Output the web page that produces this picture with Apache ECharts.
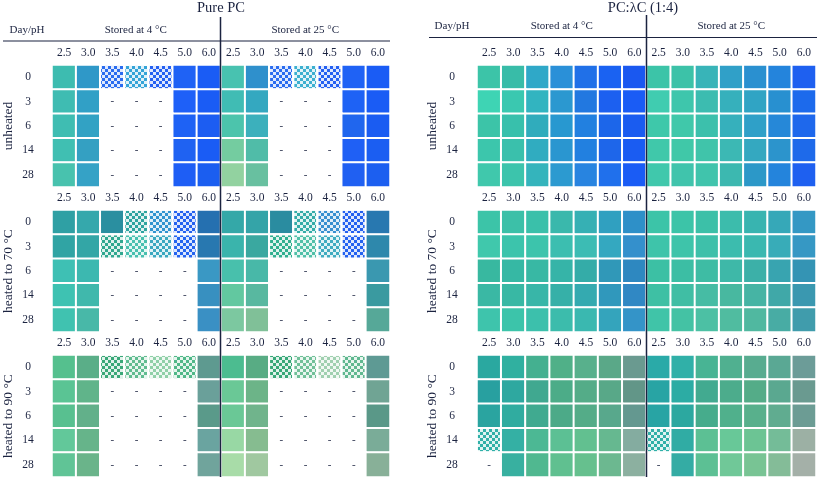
<!DOCTYPE html>
<html><head><meta charset="utf-8">
<script src="https://cdn.jsdelivr.net/npm/echarts@6/dist/echarts.min.js"></script>
<style>html,body{margin:0;padding:0;background:#fff}#c{width:817px;height:477px}</style>
</head><body><div id="c"></div>
<script>
// ---------- data ----------
const phLabels = ['2.5','3.0','3.5','4.0','4.5','5.0','6.0','2.5','3.0','3.5','4.0','4.5','5.0','6.0'];
const days = ['0','3','6','14','28'];
const panelTitles = ['Pure PC', 'PC:\u03bbC (1:4)'];
const treatments = ['unheated', 'heated to 70 \u00b0C', 'heated to 90 \u00b0C'];
const storageHeaders = ['Stored at 4 \u00b0C', 'Stored at 25 \u00b0C'];
const cornerLabel = 'Day/pH';
// cell colours ('x' prefix = checkered/phase-separated sample, '-' = no sample)
const pureUnheated = [
  ['#3dbcb0','#2f98c8','x#2a6cf0','x#34a4d8','x#2460f2','#1f62f5','#1a5cf5','#48c2b0','#2f90cc','x#2a6cf0','x#3cb0d0','x#2460f2','#1f62f5','#1a5cf5'],
  ['#3fbcb2','#31a0c6','-','-','-','#1e60f8','#1a5cf5','#40bcb4','#34a8c0','-','-','-','#1e62f5','#1a5cf5'],
  ['#3fbdb2','#32a2c4','-','-','-','#1e62f5','#1c5df2','#4cc4ac','#3cb0bc','-','-','-','#2066ee','#1a5cf2'],
  ['#40bfb2','#34a0c2','-','-','-','#1f62f2','#1a5cf5','#74cca0','#50bca8','-','-','-','#1f60f5','#1b5ef2'],
  ['#48c2ae','#35a2c6','-','-','-','#1e5ef5','#1b5ef0','#92d2a0','#68c0a0','-','-','-','#2060f2','#1c5ff0']
];
const pure70 = [
  ['#2fa0a4','#35a8ac','#2a8fa0','x#2ea4a0','x#3094d0','x#2462f0','#2570b0','#34a8a8','#34a4a8','#2a8ca0','x#34aca8','x#3890d0','x#2460f0','#2878b0'],
  ['#30a4a4','#33a6a6','x#30a890','x#48c0b0','x#3aa8c0','x#2464f0','#2878b0','#3ab4ac','#3aa8a0','x#30b090','x#50c0a8','x#40acc0','x#2462f0','#2e88ac'],
  ['#3ec0b4','#3cb8b0','-','-','-','-','#3a98c4','#48c0ac','#48b8a8','-','-','-','-','#3a98b0'],
  ['#3ec2b2','#40b8ac','-','-','-','-','#3890c0','#62c8a0','#58b8a0','-','-','-','-','#3a9aa0'],
  ['#40c2b0','#48b8a8','-','-','-','-','#3a90c4','#7cc8a0','#80c098','-','-','-','-','#56a898']
];
const pure90 = [
  ['#55c08e','#5aae88','x#3aa878','x#60bc90','x#90d0a8','x#50b888','#5e9a90','#4cbc90','#58ac84','x#38a878','x#70c098','x#a0d0b0','x#60b890','#5e9a94'],
  ['#5ac494','#60b48a','-','-','-','-','#6aa09a','#6ac896','#6cb488','-','-','-','-','#70a494'],
  ['#58c090','#62b08a','-','-','-','-','#5a9a8a','#6ac896','#70b48c','-','-','-','-','#5a9888'],
  ['#62c89a','#66b48a','-','-','-','-','#6aa4a0','#98d8a4','#86bc90','-','-','-','-','#7aac98'],
  ['#60c496','#6ab48a','-','-','-','-','#70a49c','#a8dca8','#a0c8a0','-','-','-','-','#88b098']
];
const mixUnheated = [
  ['#3cc4a8','#38bca8','#2fa8c8','#2a90d8','#2070e8','#1a62f2','#1a58f0','#3cc4a8','#3cc2a8','#38b4b8','#30a0c8','#2a90d0','#2484dc','#1e60f0'],
  ['#3ed4b4','#3ac8b0','#32b4c0','#2b98d0','#2278e0','#1c60f0','#1a5cf5','#40ccb0','#3ec6ac','#3cbcb0','#36b0bc','#30a4c4','#2890d0','#1c6aec'],
  ['#3cc4a8','#38c0ac','#30acbc','#2898d0','#2280e0','#1c66ea','#1a5cf0','#3ec8aa','#40c8aa','#3cc0ac','#36b0bc','#2fa0c8','#2688d8','#1e68ec'],
  ['#3cc6ac','#3ac0ac','#30acc0','#2a96d0','#2280e0','#1e66ea','#1a5cf2','#40c8aa','#40c8a8','#40c4aa','#3cb8b4','#34a8c0','#2c94cc','#1e6aea'],
  ['#40c8ac','#3cc4ac','#34b4bc','#2c9ad0','#2884e0','#2070ec','#1a5cf5','#40c8ac','#40c4ac','#40c4ac','#3cb8b0','#2c98c8','#2484dc','#1e60f0']
];
const mix70 = [
  ['#3cc4a8','#3cc0a8','#3ac0aa','#3ab8ac','#36b0b4','#30a0c0','#2e90c8','#3cc4a8','#3cc4a8','#3cc0a8','#3cbcac','#38b4b0','#36a8b8','#3498c4'],
  ['#40c8ac','#3cc4ac','#3cc4ac','#3cbeb0','#3cbcb4','#34a8c0','#3490cc','#3ec4aa','#3ec4aa','#3ec0aa','#3cbcae','#3ab8b0','#38acb8','#3698c4'],
  ['#38b8a0','#36b8a4','#38b8a4','#36b4a8','#34aca8','#3098b8','#2e88c0','#3cc0a4','#3cbea4','#3ebca4','#3eb8a8','#3cb0a8','#38a4b0','#3494b4'],
  ['#3ab8a4','#38b8a4','#38b6a8','#36b0a8','#34aab0','#3098bc','#3088c4','#3ec0a4','#40bea4','#46bca4','#48b8a0','#46b4a4','#40a8a8','#3a98b0'],
  ['#3ec4ac','#3cc4aa','#3cc0ac','#3cbcac','#3ab8b0','#34a4bc','#3494c8','#40c4a8','#44c2a4','#4cc0a4','#50bca0','#50b8a0','#48aca4','#409cac']
];
const mix90 = [
  ['#2aa8a0','#30b0a0','#44b090','#50b088','#58b08c','#5aa888','#6a9a90','#2aaaa8','#30b0a8','#48b494','#50b090','#58ac90','#5aa894','#6c9c98'],
  ['#28a0a0','#2ea8a0','#40a890','#4cac88','#54ac88','#58a888','#629688','#28a4a4','#2caca4','#42aa90','#4cac8c','#54ac88','#5aa890','#6a9a90'],
  ['#2aa4a0','#30aca0','#40aa90','#4caa88','#54ac88','#58a88c','#649890','#28a4a4','#2ca8a0','#46ac8c','#50b08c','#58b08c','#60ac90','#6c9c94'],
  ['x#30b0a8','#34b0a4','#4cb894','#5cc094','#62c090','#66b890','#84aca0','x#30b0a8','#30aca4','#5cc094','#68c898','#6cc494','#74bc98','#9cb0a4'],
  ['-','#38b0a0','#50b890','#60c090','#66c08e','#6cb890','#8cb0a0','-','#34aca4','#5cc094','#70c898','#78c494','#84bc98','#a4b0a8']
];
const panelBlocks = [[pureUnheated, pure70, pure90], [mixUnheated, mix70, mix90]];

// ---------- layout / style ----------
const FONT = 'Liberation Serif';
const INK = '#1b2340';
const GW = 339, GH = 122;
const tops = [65, 210, 355];
const panels = [
  {left: 51, titleX: 221, headY: 30, lineY: 41, lineX0: 3, lineX1: 390, divTop: 17, dayX: 27, nameGap: 37},
  {left: 477, titleX: 643, headY: 26, lineY: 37.5, lineX0: 429, lineX1: 817, divTop: 15, dayX: 452, nameGap: 38}
];
const checker = {
  symbol: 'rect', symbolSize: 1, color: 'rgba(255,255,255,0.85)',
  dashArrayX: [[3, 3], [0, 3, 3, 0]], dashArrayY: [3, 0]
};

function buildData(block) {
  const out = [];
  block.forEach((row, r) => row.forEach((s, c) => {
    if (s === '-') out.push({value: [c, r, 0], missing: true, itemStyle: {color: '#ffffff'}});
    else if (s[0] === 'x') out.push({value: [c, r, 1], itemStyle: {color: s.slice(1), decal: checker}});
    else out.push({value: [c, r, 1], itemStyle: {color: s}});
  }));
  return out;
}

const grid = [], xAxis = [], yAxis = [], series = [], graphic = [];
panels.forEach((p, pi) => {
  tops.forEach((t, bi) => {
    const idx = grid.length;
    grid.push({left: p.left, top: t, width: GW, height: GH});
    xAxis.push({
      gridIndex: idx, type: 'category', data: phLabels, position: 'top',
      axisLine: {show: false}, axisTick: {show: false}, splitLine: {show: false},
      axisLabel: {interval: 0, margin: 6, fontFamily: FONT, fontSize: 11.5, color: INK}
    });
    yAxis.push({
      gridIndex: idx, type: 'category', data: days, inverse: true,
      axisLine: {show: false}, axisTick: {show: false}, splitLine: {show: false},
      axisLabel: {interval: 0, align: 'center', margin: p.left - p.dayX, fontFamily: FONT, fontSize: 11.5, color: INK},
      name: treatments[bi], nameLocation: 'middle', nameRotate: 90, nameGap: p.nameGap,
      nameTextStyle: {fontFamily: FONT, fontSize: 13.5, color: INK}
    });
    series.push({
      type: 'heatmap', xAxisIndex: idx, yAxisIndex: idx,
      data: buildData(panelBlocks[pi][bi]),
      itemStyle: {borderColor: '#ffffff', borderWidth: 2},
      label: {show: true, formatter: d => d.data.missing ? '-' : '', fontFamily: FONT, fontSize: 11, color: INK},
      emphasis: {disabled: true}
    });
  });
  const divX = p.left + GW / 2;
  graphic.push(
    {type: 'text', x: p.titleX, y: 8, style: {text: panelTitles[pi], font: '14.5px ' + FONT, fill: INK, align: 'center', verticalAlign: 'middle'}},
    {type: 'text', x: p.dayX, y: p.headY, style: {text: cornerLabel, font: '11px ' + FONT, fill: INK, align: 'center', verticalAlign: 'middle'}},
    {type: 'text', x: (p.left + divX) / 2, y: p.headY, style: {text: storageHeaders[0], font: '11px ' + FONT, fill: INK, align: 'center', verticalAlign: 'middle'}},
    {type: 'text', x: (divX + p.left + GW) / 2, y: p.headY, style: {text: storageHeaders[1], font: '11px ' + FONT, fill: INK, align: 'center', verticalAlign: 'middle'}},
    {type: 'line', shape: {x1: p.lineX0, y1: p.lineY, x2: p.lineX1, y2: p.lineY}, style: {stroke: INK, lineWidth: 1.2}},
    {type: 'line', z: 100, shape: {x1: divX, y1: p.divTop, x2: divX, y2: 477}, style: {stroke: INK, lineWidth: 1.5}}
  );
});

const chart = echarts.init(document.getElementById('c'), null, {renderer: 'canvas'});
chart.setOption({
  animation: false,
  backgroundColor: '#ffffff',
  grid, xAxis, yAxis, series, graphic
});
</script></body></html>
